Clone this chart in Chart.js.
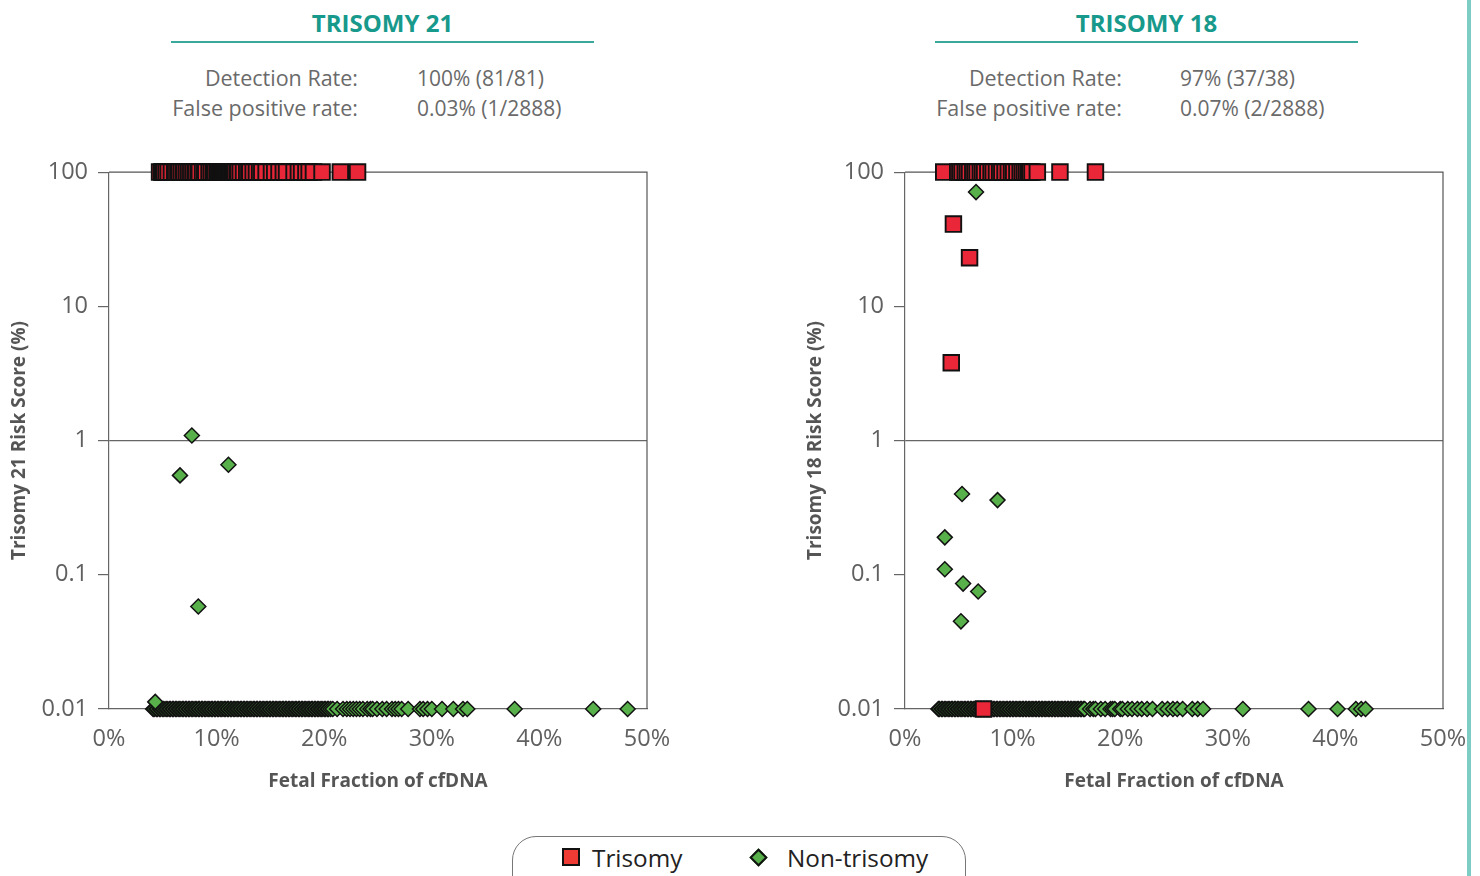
<!DOCTYPE html>
<html><head><meta charset="utf-8">
<script src="https://cdn.jsdelivr.net/npm/chart.js@4.4.1/dist/chart.umd.min.js"></script>
<style>
html,body{margin:0;padding:0;background:#fff}
body{width:1480px;height:876px;overflow:hidden;position:relative;font-family:'Open Sans',sans-serif}
.ttl{position:absolute;top:8px;width:423px;text-align:center;font-weight:700;font-size:24px;line-height:30px;color:#17998b}
.rule{position:absolute;top:41px;width:423px;height:2px;background:#3aa99c}
.lab{position:absolute;text-align:right;font-size:21.5px;line-height:30px;color:#6a6a6a;white-space:nowrap}
.val{position:absolute;font-size:21px;line-height:30px;color:#6a6a6a;white-space:nowrap}
canvas{position:absolute}
.legend{position:absolute;left:512px;top:836px;width:454px;height:70px;border:1.5px solid #777;border-radius:24px;box-sizing:border-box}
.lg{position:absolute;top:844px;font-size:24.3px;line-height:28px;color:#222}
.sq{position:absolute;left:562px;top:848px;width:18px;height:18px;background:#ee3b33;border:2px solid #111;box-sizing:border-box}
.dm{position:absolute;left:752px;top:851px;width:13px;height:13px;background:#58b04a;border:2px solid #111;box-sizing:border-box;transform:rotate(45deg)}
.edge{position:absolute;left:1467px;top:0;width:4px;height:876px;background:#7dcdc5}
</style></head>
<body>
<div class="ttl" style="left:171px">TRISOMY 21</div>
<div class="rule" style="left:171px"></div>
<div class="lab" style="left:0;width:358px;top:63px">Detection Rate:</div>
<div class="val" style="left:417px;top:63px">100% (81/81)</div>
<div class="lab" style="left:0;width:358px;top:93px">False positive rate:</div>
<div class="val" style="left:417px;top:93px">0.03% (1/2888)</div>

<div class="ttl" style="left:935px">TRISOMY 18</div>
<div class="rule" style="left:935px"></div>
<div class="lab" style="left:700px;width:422px;top:63px">Detection Rate:</div>
<div class="val" style="left:1180px;top:63px">97% (37/38)</div>
<div class="lab" style="left:700px;width:422px;top:93px">False positive rate:</div>
<div class="val" style="left:1180px;top:93px">0.07% (2/2888)</div>

<canvas id="c21" width="720" height="650" style="left:0;top:148px"></canvas>
<canvas id="c18" width="720" height="650" style="left:796px;top:148px"></canvas>

<div class="legend"></div>
<div class="sq"></div><div class="lg" style="left:592px">Trisomy</div>
<div class="dm"></div><div class="lg" style="left:787px">Non-trisomy</div>
<div class="edge"></div>

<script>
// ---------- axis ticks ----------
const xTickValues = [0, 10, 20, 30, 40, 50];
const yTickValues = [0.01, 0.1, 1, 10, 100];
const yTickLabels = ['0.01', '0.1', '1', '10', '100'];
const topRisk = 100;      // risk score cap (top row)
const bottomRisk = 0.01;  // risk score floor (bottom row)

// ---------- TRISOMY 21 ----------
// trisomy cases at risk 100 (fetal fraction %)
const t21TrisomyTopFF = [4.7,4.9,5.0,5.1,5.3,5.5,5.8,6.1,6.2,6.4,6.5,6.7,6.9,7.0,7.2,7.4,7.6,7.8,8.0,8.1,8.3,8.4,8.7,8.9,9.0,9.3,9.5,9.7,9.8,9.9,10.1,10.15,10.2,10.3,10.35,10.4,10.5,10.55,10.6,10.7,10.75,10.8,10.9,10.95,11.0,11.1,11.15,11.2,11.3,11.35,11.4,11.5,11.55,11.6,11.7,11.9,12.0,12.2,12.5,12.8,13.0,13.1,13.4,13.7,14.0,14.2,14.6,15.1,15.4,15.8,16.2,16.5,17.2,17.6,17.9,18.3,18.6,19.0,19.8,21.5,23.1];
// non-trisomy at risk floor 0.01
const t21NonBottomFF = [4.1,4.2,4.4,4.5,4.7,4.8,5.0,5.1,5.3,5.4,5.6,5.7,5.9,6.0,6.2,6.3,6.5,6.6,6.8,6.9,7.1,7.2,7.4,7.5,7.7,7.8,8.0,8.1,8.3,8.4,8.6,8.7,8.9,9.0,9.2,9.3,9.5,9.6,9.8,9.9,10.1,10.2,10.4,10.5,10.7,10.8,11.0,11.1,11.3,11.4,11.6,11.7,11.9,12.0,12.2,12.3,12.5,12.6,12.8,12.9,13.1,13.2,13.4,13.5,13.7,13.8,14.0,14.1,14.3,14.4,14.6,14.7,14.9,15.0,15.2,15.3,15.5,15.6,15.8,15.9,16.1,16.2,16.4,16.5,16.7,16.8,17.0,17.1,17.3,17.4,17.6,17.7,17.9,18.0,18.2,18.3,18.5,18.6,18.8,18.9,19.1,19.2,19.4,19.5,19.7,19.8,20.0,20.1,20.3,20.4,20.6,20.8,21.2,21.75,22.1,22.4,22.7,23.0,23.3,23.6,24.0,24.3,24.5,24.9,25.4,25.8,26.3,26.6,26.9,27.2,27.8,28.9,29.2,29.6,30.0,30.95,32.0,32.9,33.3,37.7,45.0,48.2];
// non-trisomy above the floor
const t21NonOtherFF   = [7.7, 6.6, 11.1, 8.3, 4.3];
const t21NonOtherRisk = [1.09, 0.55, 0.66, 0.058, 0.0113];

// ---------- TRISOMY 18 ----------
const t18TrisomyTopFF = [3.6,4.9,5.1,5.3,5.6,5.8,6.0,6.3,6.5,6.7,7.0,7.2,7.4,7.7,8.0,8.2,8.5,8.8,9.0,9.3,9.6,9.9,10.1,10.4,10.7,10.9,11.1,11.3,11.5,11.6,11.8,12.3,14.4,17.7];
const t18TrisomyOtherFF   = [4.5, 6.0, 4.3, 7.3];
const t18TrisomyOtherRisk = [41, 23, 3.8, 0.01];
const t18NonBottomFF = [3.1,3.2,3.4,3.5,3.7,3.8,4.0,4.1,4.3,4.4,4.6,4.7,4.9,5.0,5.2,5.3,5.5,5.6,5.8,5.9,6.1,6.2,6.4,6.5,6.7,6.8,7.0,7.1,7.3,7.4,7.6,7.7,7.9,8.0,8.2,8.3,8.5,8.6,8.8,8.9,9.1,9.2,9.4,9.5,9.7,9.8,10.0,10.1,10.3,10.4,10.6,10.7,10.9,11.0,11.2,11.3,11.5,11.6,11.8,11.9,12.1,12.2,12.4,12.5,12.7,12.8,13.0,13.1,13.3,13.4,13.6,13.7,13.9,14.0,14.2,14.3,14.5,14.6,14.8,14.9,15.1,15.2,15.4,15.5,15.7,15.8,16.0,16.1,16.3,16.4,16.6,16.7,17.2,17.5,17.7,18.2,18.6,19.1,19.3,19.5,20.0,20.2,20.7,21.1,21.6,22.0,22.5,23.0,23.9,24.4,24.9,25.3,25.8,26.7,27.2,27.7,31.4,37.5,40.2,41.9,42.4,42.8];
const t18NonOtherFF   = [6.6, 5.3, 8.6, 3.7, 3.7, 5.4, 6.8, 5.2];
const t18NonOtherRisk = [71, 0.40, 0.36, 0.19, 0.11, 0.086, 0.075, 0.045];

function pts(ffArr, riskArrOrConst) {
  return ffArr.map((ff, i) => ({x: ff, y: Array.isArray(riskArrOrConst) ? riskArrOrConst[i] : riskArrOrConst}));
}

const framePlugin = {
  id: 'frame',
  beforeDatasetsDraw(chart) {
    const a = chart.chartArea, ctx = chart.ctx;
    ctx.save();
    ctx.strokeStyle = '#555';
    ctx.lineWidth = 1.2;
    ctx.beginPath();
    ctx.moveTo(a.left, a.top); ctx.lineTo(a.right, a.top); ctx.lineTo(a.right, a.bottom);
    ctx.stroke();
    ctx.restore();
  }
};

const TICK_FONT = {family: "'Open Sans', sans-serif", size: 23.5};
const TITLE_FONT = {family: "'Open Sans', sans-serif", size: 19, weight: 'bold'};

function makeChart(id, trisomyData, nonData, yTitle) {
  return new Chart(document.getElementById(id), {
    type: 'scatter',
    data: {
      datasets: [
        {label: 'Trisomy', data: trisomyData, pointStyle: 'rect', pointRadius: 11, pointHoverRadius: 11,
         backgroundColor: '#ea2738', borderColor: '#111', borderWidth: 1.9, clip: false},
        {label: 'Non-trisomy', data: nonData, pointStyle: 'rectRot', pointRadius: 7.5, pointHoverRadius: 7.5,
         backgroundColor: '#58b04a', borderColor: '#111', borderWidth: 1.5, clip: false}
      ]
    },
    options: {
      responsive: false, animation: false, devicePixelRatio: 1,
      layout: {padding: {top: 19, right: 73, left: 0, bottom: 0}},
      plugins: {legend: {display: false}, tooltip: {enabled: false}},
      events: [],
      scales: {
        x: {
          type: 'linear', min: 0, max: 50,
          afterBuildTicks: s => { s.ticks = xTickValues.map(v => ({value: v})); },
          afterFit: s => { s.height = 89; },
          ticks: {callback: v => v + '%', font: TICK_FONT, color: '#606060', padding: 16, maxRotation: 0},
          grid: {display: true, drawOnChartArea: false, drawTicks: false},
          border: {display: true, color: '#666', width: 1.2},
          title: {display: true, text: 'Fetal Fraction of cfDNA', font: TITLE_FONT, color: '#555', padding: {top: 0, bottom: 5}}
        },
        y: {
          type: 'logarithmic', min: 0.01, max: 100,
          afterBuildTicks: s => { s.ticks = yTickValues.map(v => ({value: v})); },
          afterFit: s => { s.width = 109; },
          ticks: {callback: (v) => { const i = yTickValues.indexOf(v); return i >= 0 ? yTickLabels[i] : ''; },
                  font: TICK_FONT, color: '#606060', padding: 10, autoSkip: false},
          grid: {display: true, drawOnChartArea: true, drawTicks: true, tickLength: 11,
                 color: c => (c.tick && c.tick.value === 1) ? '#666' : 'rgba(0,0,0,0)',
                 tickColor: '#666', lineWidth: 1.2, tickWidth: 1.2},
          border: {display: true, color: '#666', width: 1.2},
          title: {display: true, text: yTitle, font: TITLE_FONT, color: '#555', padding: {top: 8, bottom: 0}}
        }
      }
    },
    plugins: [framePlugin]
  });
}

makeChart('c21',
  pts(t21TrisomyTopFF, topRisk),
  pts(t21NonBottomFF, bottomRisk).concat(pts(t21NonOtherFF, t21NonOtherRisk)),
  'Trisomy 21 Risk Score (%)');

makeChart('c18',
  pts(t18TrisomyTopFF, topRisk).concat(pts(t18TrisomyOtherFF, t18TrisomyOtherRisk)),
  pts(t18NonBottomFF, bottomRisk).concat(pts(t18NonOtherFF, t18NonOtherRisk)),
  'Trisomy 18 Risk Score (%)');
</script>
</body></html>
